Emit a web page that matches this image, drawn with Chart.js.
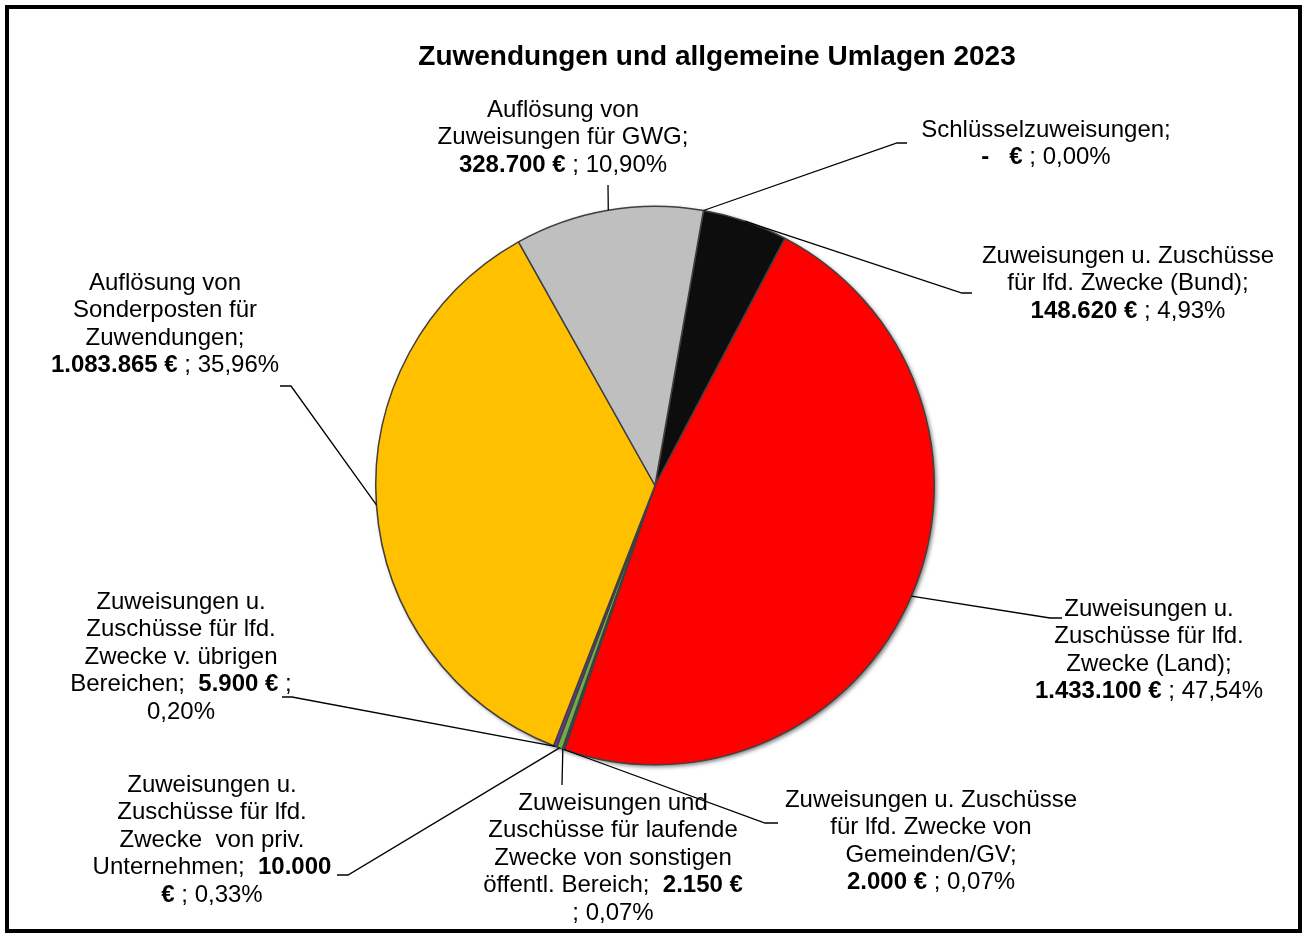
<!DOCTYPE html>
<html>
<meta charset="UTF-8">
<head>
    <title>Zuwendungen und allgemeine Umlagen 2023</title>
    <script src="https://cdn.jsdelivr.net/npm/chart.js"></script>
    <style>
        body { margin: 0; background: #fff; }
        #chartContainer { width: 1308px; height: 935px; }
    </style>
</head>
<body>
<div id="chartContainer">
    <canvas id="chart" width="1308" height="935"></canvas>
</div>

<script>
    // Daten
    const categories = [
        'Schlüsselzuweisungen',
        'Zuweisungen u. Zuschüsse für lfd. Zwecke (Bund)',
        'Zuweisungen u. Zuschüsse für lfd. Zwecke (Land)',
        'Zuweisungen u. Zuschüsse für lfd. Zwecke von Gemeinden/GV',
        'Zuweisungen und Zuschüsse für laufende Zwecke von sonstigen öffentl. Bereich',
        'Zuweisungen u. Zuschüsse für lfd. Zwecke von priv. Unternehmen',
        'Zuweisungen u. Zuschüsse für lfd. Zwecke v. übrigen Bereichen',
        'Auflösung von Sonderposten für Zuwendungen',
        'Auflösung von Zuweisungen für GWG'
    ];
    const values = [0, 148620, 1433100, 2000, 2150, 10000, 5900, 1083865, 328700];

    // Beschriftungen, zeilenweise ({v} = Betrag fett, {p} = Anteil, **x** = fett)
    const labelLines = [
        ['Schlüsselzuweisungen;', '{v} ; {p}'],
        ['Zuweisungen u. Zuschüsse', 'für lfd. Zwecke (Bund);', '{v} ; {p}'],
        ['Zuweisungen u.', 'Zuschüsse für lfd.', 'Zwecke (Land);', '{v} ; {p}'],
        ['Zuweisungen u. Zuschüsse', 'für lfd. Zwecke von', 'Gemeinden/GV;', '{v} ; {p}'],
        ['Zuweisungen und', 'Zuschüsse für laufende', 'Zwecke von sonstigen', 'öffentl. Bereich;  {v}', '; {p}'],
        ['Zuweisungen u.', 'Zuschüsse für lfd.', 'Zwecke  von priv.', 'Unternehmen;  **10.000**', '**€** ; {p}'],
        ['Zuweisungen u.', 'Zuschüsse für lfd.', 'Zwecke v. übrigen', 'Bereichen;  {v} ;', '{p}'],
        ['Auflösung von', 'Sonderposten für', 'Zuwendungen;', '{v} ; {p}'],
        ['Auflösung von', 'Zuweisungen für GWG;', '{v} ; {p}']
    ];

    const total = values.reduce((a, b) => a + b, 0);

    function formatEuro(v) {
        if (v === 0) return '-   €';
        return String(v).replace(/\B(?=(\d{3})+(?!\d))/g, '.') + ' €';
    }
    function formatPct(v) {
        return (v / total * 100).toFixed(2).replace('.', ',') + '%';
    }

    // Zeile in Segmente (normal / fett) zerlegen
    function lineSegments(line, i) {
        const s = line.replace('{v}', '**' + formatEuro(values[i]) + '**').replace('{p}', formatPct(values[i]));
        return s.split('**').map((t, k) => ({ text: t, bold: k % 2 === 1 })).filter(seg => seg.text.length);
    }

    // Positionen der Beschriftungen: Mitte x, Mitte der ersten Zeile y, Knick- und Endpunkt der Führungslinie
    const labelLayout = [
        { x: 1046, y: 130, path: [[897, 143], [907, 143]] },
        { x: 1128, y: 256, path: [[962, 293], [972, 293]] },
        { x: 1149, y: 609, path: [[1050, 618], [1062, 618]] },
        { x: 931, y: 800, path: [[765, 823], [778, 823]] },
        { x: 613, y: 803, path: [[562, 785]] },
        { x: 212, y: 785, path: [[348, 875], [337, 875]] },
        { x: 181, y: 602, path: [[292, 697], [282, 697]] },
        { x: 165, y: 283, path: [[291, 386], [280, 386]] },
        { x: 563, y: 110, path: [[608, 185]] }
    ];

    const FONT = '"Liberation Sans", Arial, sans-serif';
    const LINE_H = 27.5;

    const decorPlugin = {
        id: 'decor',
        beforeDatasetsDraw(chart) {
            // Schatten unter dem Kreis
            const arc = chart.getDatasetMeta(0).data[2];
            const ctx = chart.ctx;
            ctx.save();
            ctx.shadowColor = 'rgba(0,0,0,0.55)';
            ctx.shadowBlur = 4;
            ctx.shadowOffsetX = 2;
            ctx.shadowOffsetY = 2;
            ctx.beginPath();
            ctx.arc(arc.x, arc.y, arc.outerRadius, 0, Math.PI * 2);
            ctx.fillStyle = '#404040';
            ctx.fill();
            ctx.restore();
        },
        afterDraw(chart) {
            const ctx = chart.ctx;
            const arcs = chart.getDatasetMeta(0).data;
            ctx.save();

            // Titel
            ctx.fillStyle = '#000';
            ctx.textAlign = 'center';
            ctx.textBaseline = 'middle';
            ctx.font = 'bold 28px ' + FONT;
            ctx.fillText('Zuwendungen und allgemeine Umlagen 2023', 717, 57);

            // Führungslinien
            ctx.strokeStyle = '#000';
            ctx.lineWidth = 1.3;
            arcs.forEach((arc, i) => {
                const mid = (arc.startAngle + arc.endAngle) / 2;
                const sx = arc.x + Math.cos(mid) * arc.outerRadius;
                const sy = arc.y + Math.sin(mid) * arc.outerRadius;
                ctx.beginPath();
                ctx.moveTo(sx, sy);
                labelLayout[i].path.forEach(p => ctx.lineTo(p[0], p[1]));
                ctx.stroke();
            });

            // Beschriftungen
            ctx.textAlign = 'left';
            labelLines.forEach((lines, i) => {
                const pos = labelLayout[i];
                lines.forEach((line, li) => {
                    const segs = lineSegments(line, i);
                    let w = 0;
                    segs.forEach(seg => {
                        ctx.font = (seg.bold ? 'bold ' : '') + '24px ' + FONT;
                        seg.w = ctx.measureText(seg.text).width;
                        w += seg.w;
                    });
                    let x = pos.x - w / 2;
                    const y = pos.y + li * LINE_H;
                    segs.forEach(seg => {
                        ctx.font = (seg.bold ? 'bold ' : '') + '24px ' + FONT;
                        ctx.fillText(seg.text, x, y);
                        x += seg.w;
                    });
                });
            });

            // Rahmen
            ctx.strokeStyle = '#000';
            ctx.lineWidth = 4;
            ctx.strokeRect(7, 7, 1293, 924);
            ctx.restore();
        }
    };

    const ctx = document.getElementById('chart').getContext('2d');
    new Chart(ctx, {
        type: 'pie',
        data: {
            labels: categories,
            datasets: [{
                data: values,
                backgroundColor: ['#4472C4', '#0D0D0D', '#FF0000', '#264478', '#5B9BD5', '#70AD47', '#7030A0', '#FFC000', '#BFBFBF'],
                borderColor: '#404040',
                borderWidth: 1.5
            }]
        },
        options: {
            responsive: false,
            animation: false,
            rotation: 10,
            layout: { padding: { left: 375, right: 373, top: 205, bottom: 169 } },
            plugins: {
                legend: { display: false },
                tooltip: { enabled: false },
                title: { display: false }
            }
        },
        plugins: [decorPlugin]
    });
</script>
</body>
</html>
